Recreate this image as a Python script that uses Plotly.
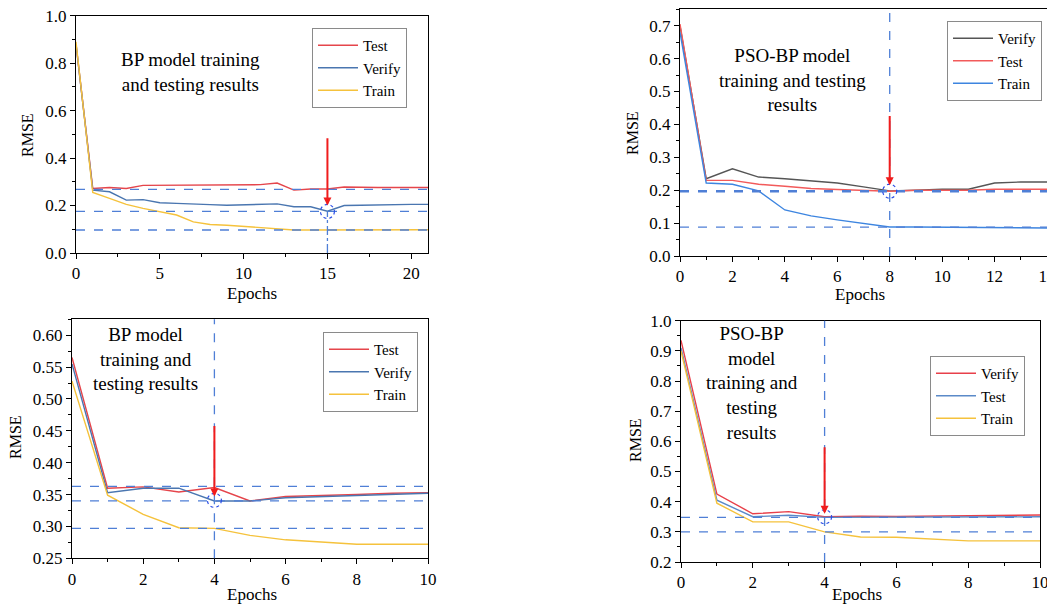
import plotly.graph_objects as go

FONT = "Liberation Serif"

# ---------------- data ----------------
# Panel A: BP model (top-left)
a_x = list(range(0, 22))
a_test = [0.88, 0.272, 0.276, 0.272, 0.285, 0.285, 0.285, 0.285, 0.285, 0.285, 0.285, 0.288, 0.295, 0.265,
          0.27, 0.27, 0.278, 0.276, 0.276, 0.276, 0.276, 0.276]
a_verify = [0.88, 0.265, 0.258, 0.223, 0.225, 0.212, 0.209, 0.205, 0.204, 0.201, 0.203, 0.205, 0.207, 0.195,
            0.195, 0.176, 0.2, 0.201, 0.203, 0.205, 0.205, 0.205]
a_train = [0.89, 0.255, 0.23, 0.205, 0.188, 0.175, 0.16, 0.131, 0.12, 0.117, 0.112, 0.108, 0.103, 0.097,
           0.097, 0.097, 0.098, 0.098, 0.098, 0.098, 0.098, 0.098]
a_hlines = [0.268, 0.175, 0.097]
a_best = (15, 0.175)
a_arrow = (0.49, 0.2)

# Panel B: PSO-BP model (top-right)
b_x = list(range(0, 15))
b_verify = [0.70, 0.235, 0.265, 0.24, 0.235, 0.228, 0.222, 0.21, 0.198, 0.2, 0.203, 0.203, 0.222, 0.225, 0.225]
b_test = [0.705, 0.23, 0.23, 0.218, 0.212, 0.205, 0.202, 0.2, 0.197, 0.2, 0.2, 0.2, 0.203, 0.203, 0.203]
b_train = [0.68, 0.222, 0.218, 0.198, 0.14, 0.122, 0.11, 0.1, 0.088, 0.088, 0.087, 0.087, 0.086, 0.086, 0.085]
b_hlines = [0.197, 0.088]
b_best = (8, 0.197)
b_arrow = (0.43, 0.215)

# Panel C: BP model (bottom-left)
c_x = list(range(0, 11))
c_test = [0.565, 0.36, 0.362, 0.354, 0.361, 0.34, 0.347, 0.348, 0.35, 0.352, 0.353]
c_verify = [0.555, 0.353, 0.36, 0.36, 0.34, 0.34, 0.345, 0.347, 0.348, 0.351, 0.352]
c_train = [0.528, 0.349, 0.319, 0.298, 0.297, 0.286, 0.279, 0.275, 0.272, 0.272, 0.272]
c_hlines = [0.363, 0.34, 0.297]
c_best = (4, 0.341)
c_arrow = (0.46, 0.347)

# Panel D: PSO-BP model (bottom-right)
d_x = list(range(0, 11))
d_verify = [0.935, 0.425, 0.36, 0.367, 0.35, 0.352, 0.351, 0.352, 0.353, 0.354, 0.356]
d_test = [0.91, 0.405, 0.35, 0.355, 0.348, 0.348, 0.348, 0.349, 0.349, 0.35, 0.35]
d_train = [0.9, 0.395, 0.333, 0.333, 0.3, 0.283, 0.282, 0.275, 0.27, 0.27, 0.27]
d_hlines = [0.348, 0.3]
d_best = (4, 0.35)
d_arrow = (0.585, 0.36)

# ---------------- figure ----------------
# the page body has an 8px margin, so the figure starts at (8, 8) in the window
OFF = 8
W, H = 1055 - OFF, 606 - OFF
fig = go.Figure()

def px_x(p):
    return (p - OFF) / W

def px_y(p):
    return 1 - (p - OFF) / H

RED = "#e5454b"
STEEL = "#4a76b0"
GOLD = "#f5c23c"
GRAY = "#555555"
BRIGHTBLUE = "#3d85e0"
LRED = "#f25a5a"
DASH = "#4f7fd6"

panels = [
    dict(ax="", x=a_x, series=[("Test", a_test, RED), ("Verify", a_verify, STEEL), ("Train", a_train, GOLD)],
         xdom=(76, 428), ydom=(15.7, 253), xr=[0, 21], yr=[0, 1.0], xd=5, xm=2.5, yd=0.2, ym=0.1, yfmt=".1f",
         hl=a_hlines, hlw=[1.3, 1.3, 1.3], best=a_best, arrow=a_arrow, vfull=False,
         legbox=(407, 28), text=["BP model training", "and testing results"], tx=190, ty=72,
         rmse=(28, 135), epochs=(252, 293)),
    dict(ax="2", x=b_x, series=[("Verify", b_verify, GRAY), ("Test", b_test, LRED), ("Train", b_train, BRIGHTBLUE)],
         xdom=(680, 1047), ydom=(9.3, 256), xr=[0, 14], yr=[0, 0.75], xd=2, xm=1, yd=0.1, ym=0.05, yfmt=".1f",
         hl=b_hlines, hlw=[2.6, 1.3], best=b_best, arrow=b_arrow, vfull=True,
         legbox=(1042, 21), text=["PSO-BP model", "training and testing", "results"], tx=792, ty=80,
         rmse=(633, 133), epochs=(860, 294)),
    dict(ax="3", x=c_x, series=[("Test", c_test, RED), ("Verify", c_verify, STEEL), ("Train", c_train, GOLD)],
         xdom=(72, 428), ydom=(319.3, 558.3), xr=[0, 10], yr=[0.25, 0.625], xd=2, xm=1, yd=0.05, ym=0.025, yfmt=".2f",
         hl=c_hlines, hlw=[1.3, 1.3, 1.3], best=c_best, arrow=c_arrow, vfull=True,
         legbox=(418, 332), text=["BP model", "training and", "testing results"], tx=146, ty=359,
         rmse=(15, 437), epochs=(252, 594)),
    dict(ax="4", x=d_x, series=[("Verify", d_verify, "#e8404a"), ("Test", d_test, "#5b8ac8"), ("Train", d_train, GOLD)],
         xdom=(681, 1040), ydom=(320.7, 562), xr=[0, 10], yr=[0.2, 1.0], xd=2, xm=1, yd=0.1, ym=0.05, yfmt=".1f",
         hl=d_hlines, hlw=[1.3, 1.3], best=d_best, arrow=d_arrow, vfull=True,
         legbox=(1025, 356), text=["PSO-BP", "model", "training and", "testing", "results"], tx=752,
         ty=383, rmse=(635, 440), epochs=(857, 594)),
]

layout = dict(width=W, height=H, margin=dict(l=0, r=0, t=0, b=0, autoexpand=False),
              plot_bgcolor="white", paper_bgcolor="white",
              showlegend=True, font=dict(family=FONT, size=16, color="black"))
annotations = []
shapes = []

for i, p in enumerate(panels):
    ax = p["ax"]
    xname = "xaxis" + ax
    yname = "yaxis" + ax
    xref = "x" + ax
    yref = "y" + ax
    legname = "legend" + ax

    for name, vals, col in p["series"]:
        fig.add_trace(go.Scatter(x=p["x"], y=vals, mode="lines", name=name, line=dict(color=col, width=1.4),
                                 xaxis=xref, yaxis=yref, legend=legname))

    common = dict(showline=True, linecolor="black", linewidth=1, mirror=True, ticks="outside", ticklen=5,
                  tickcolor="black", showgrid=False, zeroline=False, automargin=False,
                  ticklabeloverflow="allow",
                  tickfont=dict(family=FONT, size=17, color="black"))
    layout[xname] = dict(domain=[px_x(p["xdom"][0]), px_x(p["xdom"][1])], range=p["xr"], dtick=p["xd"], tick0=0,
                         anchor=yref, minor=dict(dtick=p["xm"], ticks="outside", ticklen=3, tickcolor="black"),
                         **common)
    layout[yname] = dict(domain=[px_y(p["ydom"][1]), px_y(p["ydom"][0])], range=p["yr"], dtick=p["yd"],
                         tick0=p["yr"][0], tickformat=p["yfmt"], anchor=xref,
                         minor=dict(dtick=p["ym"], ticks="outside", ticklen=3, tickcolor="black"), **common)

    layout[legname] = dict(x=px_x(p["legbox"][0]), y=px_y(p["legbox"][1]), xanchor="right", yanchor="top",
                           xref="paper", yref="paper", bgcolor="white", bordercolor="#8a8a8a", borderwidth=1,
                           font=dict(family=FONT, size=15, color="black"), tracegroupgap=0, itemwidth=40)

    # horizontal dashed reference lines
    for yv, lw in zip(p["hl"], p["hlw"]):
        shapes.append(dict(type="line", xref=xref + " domain", yref=yref, x0=0, x1=1, y0=yv, y1=yv,
                           line=dict(color=DASH, width=lw, dash="dash")))
    bx, by = p["best"]
    if p["vfull"]:
        shapes.append(dict(type="line", xref=xref, yref=yref + " domain", x0=bx, x1=bx, y0=0, y1=1,
                           line=dict(color=DASH, width=1.3, dash="dash")))
    else:
        shapes.append(dict(type="line", xref=xref, yref=yref, x0=bx, x1=bx, y0=p["yr"][0], y1=by,
                           line=dict(color=DASH, width=1.3, dash="dashdot")))
    # dotted circle at the best epoch
    shapes.append(dict(type="circle", xref=xref, yref=yref, xsizemode="pixel", ysizemode="pixel",
                       xanchor=bx, yanchor=by, x0=-7, x1=7, y0=-7, y1=7,
                       line=dict(color="#2b4ee6", width=1.2, dash="dot")))
    # red arrow
    tail, tip = p["arrow"]
    annotations.append(dict(x=bx, y=tip, ax=bx, ay=tail, xref=xref, yref=yref, axref=xref, ayref=yref,
                            text="", showarrow=True, arrowhead=2, arrowsize=0.8, arrowwidth=2, arrowcolor="#f01c1c"))
    # panel description text
    annotations.append(dict(x=px_x(p["tx"]), y=px_y(p["ty"]), xref="paper", yref="paper",
                            text="<br>".join(p["text"]), align="center",
                            showarrow=False, xanchor="center", yanchor="middle",
                            font=dict(family=FONT, size=19, color="black")))
    # axis titles
    annotations.append(dict(x=px_x(p["rmse"][0]), y=px_y(p["rmse"][1]), xref="paper", yref="paper", text="RMSE",
                            textangle=-90, showarrow=False, xanchor="center", yanchor="middle",
                            font=dict(family=FONT, size=16, color="black")))
    annotations.append(dict(x=px_x(p["epochs"][0]), y=px_y(p["epochs"][1]), xref="paper", yref="paper",
                            text="Epochs", showarrow=False, xanchor="center", yanchor="middle",
                            font=dict(family=FONT, size=17, color="black")))

layout["annotations"] = annotations
layout["shapes"] = shapes
fig.update_layout(**layout)
fig.write_html("out.html")
